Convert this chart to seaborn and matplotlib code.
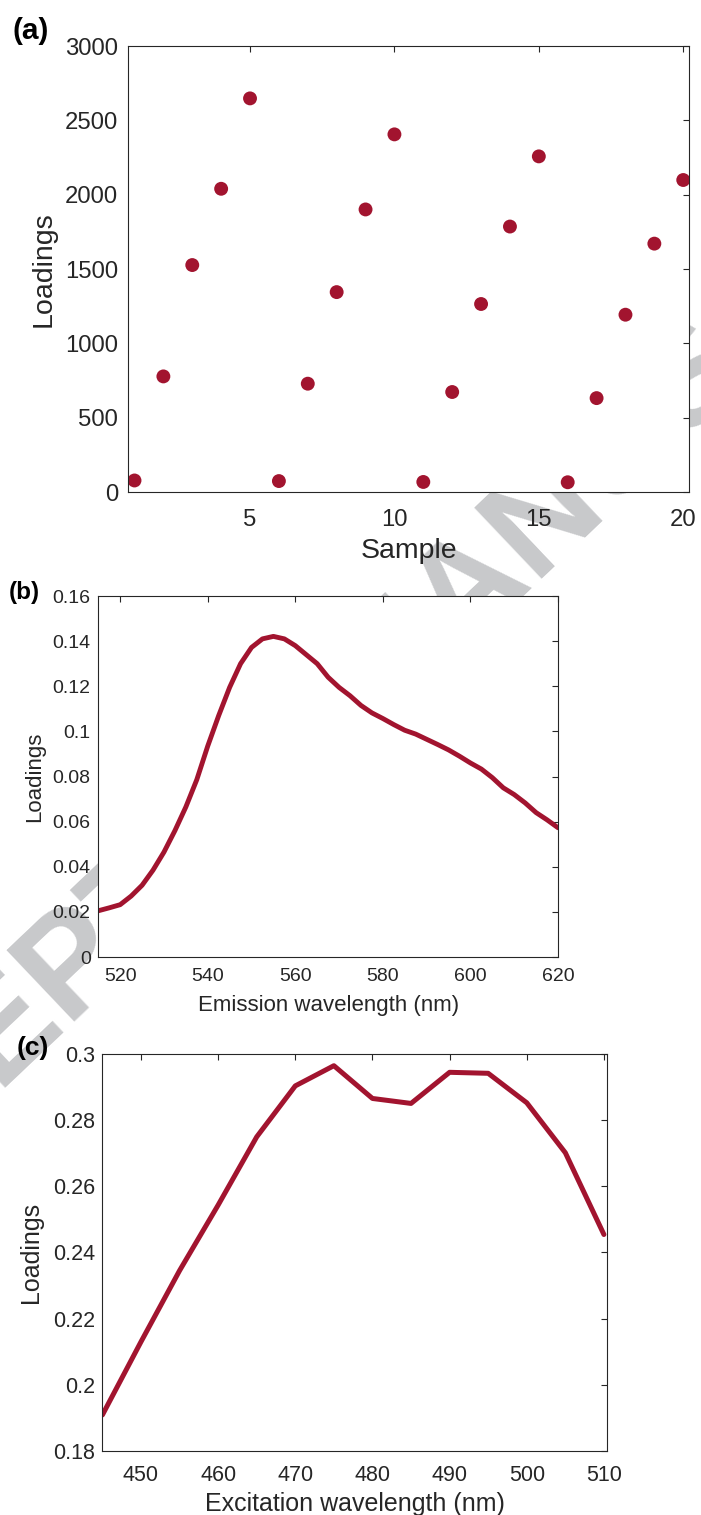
import matplotlib
matplotlib.use("Agg")
import matplotlib.pyplot as plt
import seaborn as sns
import pandas as pd

# (a) sample scores
sample = list(range(1, 21))
sample_loadings = [78, 778, 1527, 2040, 2648, 74, 729, 1345, 1901, 2406,
                   68, 673, 1265, 1786, 2258, 66, 632, 1193, 1671, 2099]

# (b) emission loadings
em_wavelength = [515, 517.5, 520, 522.5, 525, 527.5, 530, 532.5, 535, 537.5,
                 540, 542.5, 545, 547.5, 550, 552.5, 555, 557.5, 560, 562.5,
                 565, 567.5, 570, 572.5, 575, 577.5, 580, 582.5, 585, 587.5,
                 590, 592.5, 595, 597.5, 600, 602.5, 605, 607.5, 610, 612.5,
                 615, 617.5, 620]
em_loadings = [0.0205, 0.0218, 0.0232, 0.0270, 0.0318, 0.0385, 0.0465, 0.0560,
               0.0665, 0.0786, 0.0935, 0.1070, 0.1195, 0.1300, 0.1372, 0.1410,
               0.1421, 0.1410, 0.1380, 0.1340, 0.1300, 0.1240, 0.1195, 0.1158,
               0.1115, 0.1082, 0.1057, 0.1030, 0.1005, 0.0988, 0.0965, 0.0942,
               0.0918, 0.0890, 0.0860, 0.0833, 0.0795, 0.0750, 0.0720, 0.0683,
               0.0640, 0.0608, 0.0573]

# (c) excitation loadings
ex_wavelength = [445, 450, 455, 460, 465, 470, 475, 480, 485, 490, 495, 500, 505, 510]
ex_loadings = [0.1909, 0.2130, 0.2345, 0.2543, 0.2749, 0.2903, 0.2964,
               0.2865, 0.2850, 0.2944, 0.2941, 0.2852, 0.2701, 0.2454]

RED = "#A2142F"
INK = "#262626"

sns.set_style("white")
plt.rcParams["font.family"] = ["Liberation Sans", "DejaVu Sans"]
plt.rcParams["axes.edgecolor"] = INK
plt.rcParams["axes.linewidth"] = 0.8

fig = plt.figure(figsize=(7.01, 15.15), dpi=100)
fig.patch.set_facecolor("white")

ax_a = fig.add_axes([0.1826, 0.6752, 0.8003, 0.2944])
ax_b = fig.add_axes([0.1402, 0.3683, 0.6558, 0.2383])
ax_c = fig.add_axes([0.1461, 0.04224, 0.7198, 0.2622])

df_a = pd.DataFrame({"Sample": sample, "Loadings": sample_loadings})
sns.scatterplot(data=df_a, x="Sample", y="Loadings", ax=ax_a, color=RED,
                s=100, edgecolor="none", linewidth=0)
ax_a.set_xlim(0.775, 20.2)
ax_a.set_ylim(0, 3000)
ax_a.set_xticks([5, 10, 15, 20])
ax_a.set_yticks(range(0, 3001, 500))

df_b = pd.DataFrame({"wl": em_wavelength, "ld": em_loadings})
sns.lineplot(data=df_b, x="wl", y="ld", ax=ax_b, color=RED, linewidth=3.5)
ax_b.set_xlim(515, 620)
ax_b.set_ylim(0, 0.16)
ax_b.set_xticks(range(520, 621, 20))
ax_b.set_yticks([0, 0.02, 0.04, 0.06, 0.08, 0.1, 0.12, 0.14, 0.16])
ax_b.set_yticklabels(["0", "0.02", "0.04", "0.06", "0.08", "0.1", "0.12", "0.14", "0.16"])

df_c = pd.DataFrame({"wl": ex_wavelength, "ld": ex_loadings})
sns.lineplot(data=df_c, x="wl", y="ld", ax=ax_c, color=RED, linewidth=3.6)
ax_c.set_xlim(445, 510.4)
ax_c.set_ylim(0.18, 0.3)
ax_c.set_xticks(range(450, 511, 10))
ax_c.set_yticks([0.18, 0.2, 0.22, 0.24, 0.26, 0.28, 0.3])
ax_c.set_yticklabels(["0.18", "0.2", "0.22", "0.24", "0.26", "0.28", "0.3"])

styles = [
    # axis, tick size, x pad, y pad, tick len, xlabel, label size, xlabel y, ylabel x
    (ax_a, 17.2, 12.5, 7.2, 4.5, "Sample", 20.5, -0.103, -0.127),
    (ax_b, 14, 8, 5.5, 4, "Emission wavelength (nm)", 16, -0.105, -0.116),
    (ax_c, 15.5, 10, 5.5, 4, "Excitation wavelength (nm)", 18, -0.103, -0.118),
]
for ax, tsize, xpad, ypad, tlen, xlabel, lsize, xly, ylx in styles:
    ax.set_facecolor("white")
    ax.set_zorder(1)
    for sp in ax.spines.values():
        sp.set_visible(True)
        sp.set_color(INK)
        sp.set_linewidth(0.8)
    ax.tick_params(axis="both", which="both", direction="in", top=True, right=True,
                   length=tlen, width=0.8, color=INK, labelcolor=INK, labelsize=tsize)
    ax.tick_params(axis="x", pad=xpad)
    ax.tick_params(axis="y", pad=ypad)
    ax.set_xlabel(xlabel, fontsize=lsize, color=INK)
    ax.set_ylabel("Loadings", fontsize=lsize, color=INK)
    ax.xaxis.set_label_coords(0.5, xly)
    ax.yaxis.set_label_coords(ylx, 0.5)

# panel tags
fig.text(31 / 701, 1 - 31 / 1515, "(a)", fontsize=21.5, fontweight="bold",
         ha="center", va="center", color="black")
fig.text(24 / 701, 1 - 592 / 1515, "(b)", fontsize=17.5, fontweight="bold",
         ha="center", va="center", color="black")
fig.text(33 / 701, 1 - 1048 / 1515, "(c)", fontsize=19, fontweight="bold",
         ha="center", va="center", color="black")

# background stamp, drawn behind the axes
fig.text(394 / 701, 1 - 668 / 1515, "ACCEPTED MANUSCRIPT", fontsize=103,
         fontweight="bold", color="#C8C9CB", rotation=43.5, rotation_mode="anchor",
         ha="center", va="center", zorder=-5)

fig.savefig("out.png", dpi=100, facecolor="white")
